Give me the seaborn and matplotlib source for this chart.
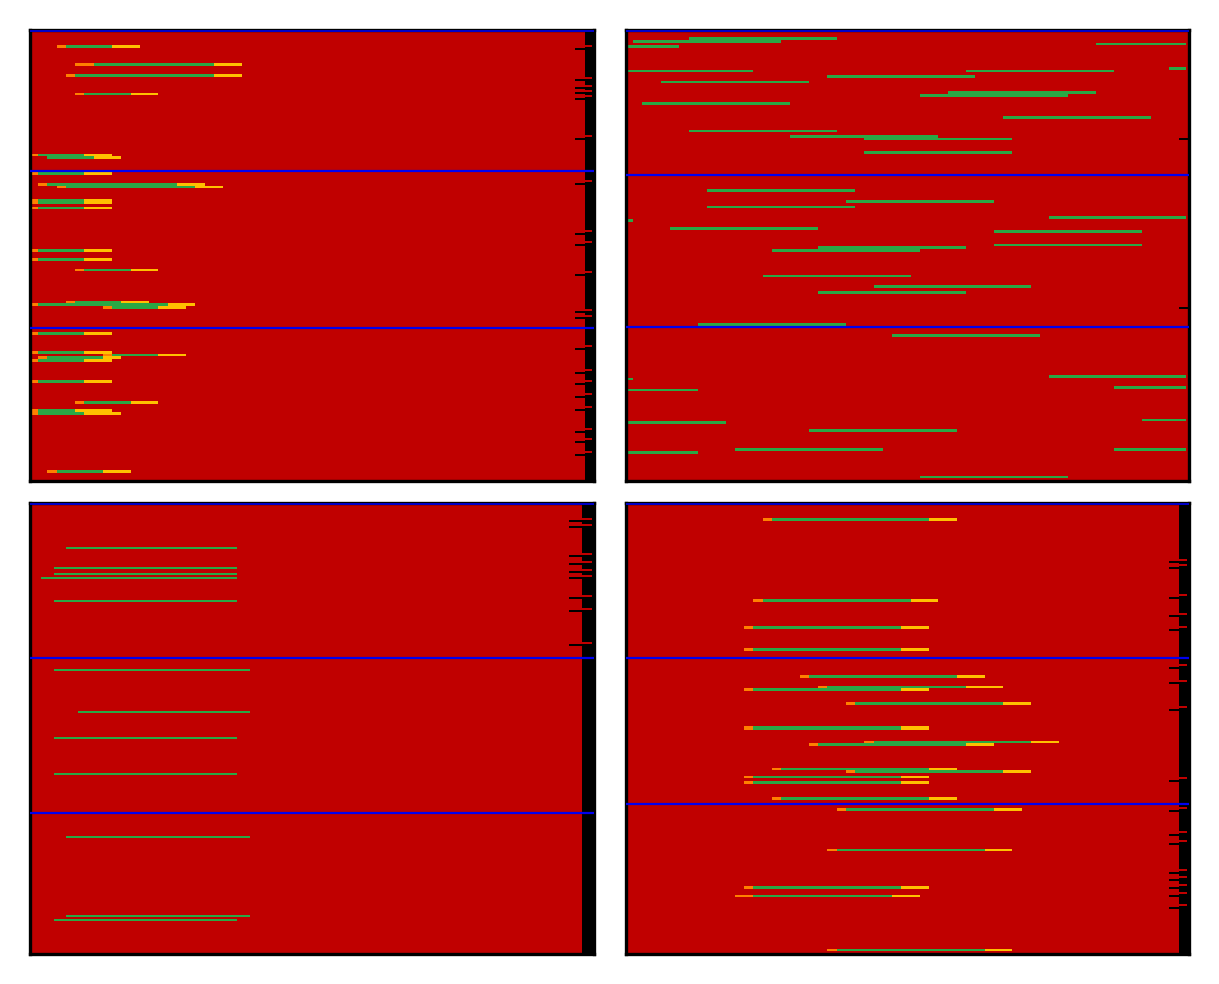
import matplotlib
matplotlib.use("Agg")
import matplotlib.pyplot as plt
import pandas as pd
import seaborn as sns

sns.set_style("white")

RED = "#c00000"
GREEN = "#2aa845"
ORANGE = "#ff8000"
YELLOW = "#ffc000"
BLUE = "#0000f0"

# panel 1: row, tx start, cds start, cds end, tx end, track height
p1_tx = [
    (16.5, 27, 36, 82, 110, 3), (34.5, 45, 64, 184, 212, 3), (45.5, 36, 45, 184, 212, 3),
    (64, 45, 54, 101, 128, 2), (125, 1, 8, 54, 82, 2), (127.5, 17, 17, 64, 91, 3),
    (143.5, 1, 8, 54, 82, 3), (154.5, 8, 17, 147, 175, 3), (157, 27, 36, 165, 193, 2),
    (171.5, 1, 8, 54, 82, 5), (178, 1, 8, 54, 82, 2), (220.5, 1, 8, 54, 82, 3),
    (228.5, 1, 8, 54, 82, 3), (239, 45, 54, 101, 128, 2), (271, 36, 45, 91, 119, 2),
    (273.5, 1, 8, 138, 165, 3), (276.5, 73, 82, 128, 156, 3), (302.5, 1, 8, 54, 82, 3),
    (321.5, 1, 8, 54, 82, 3), (324, 73, 82, 128, 156, 2), (326.5, 8, 17, 73, 91, 3),
    (329.5, 1, 8, 54, 82, 3), (350.5, 1, 8, 54, 82, 3), (371.5, 45, 54, 101, 128, 3),
    (379.5, 1, 8, 45, 82, 3), (382.5, 1, 8, 54, 91, 3), (440.5, 17, 27, 73, 101, 3),
]
p1_splits = [141, 297]
p1_marks = [(16, 19), (48, 50), (56, 58), (61, 63), (66, 69), (106, 109), (151, 154),
            (201, 204), (212, 215), (241, 244), (279, 281), (285, 287), (315, 318),
            (339, 342), (350, 353), (363, 366), (376, 379), (398, 401), (408, 411), (421, 424)]

# panel 2: row, start, end, track height (coding only)
p2_tx = [
    (8.5, 63, 211, 3), (11.5, 7, 155, 3), (14, 470, 560, 2), (16.5, 0, 53, 3),
    (38.5, 543, 560, 3), (41, 0, 127, 2), (41, 340, 488, 2), (46.5, 201, 349, 3),
    (52, 35, 183, 2), (62.5, 322, 470, 3), (65.5, 294, 442, 3), (73.5, 16, 164, 3),
    (87.5, 377, 525, 3), (101, 63, 211, 2), (106.5, 164, 312, 3), (109, 238, 386, 2),
    (122.5, 238, 386, 3), (160.5, 81, 229, 3), (171.5, 220, 368, 3), (177, 81, 229, 2),
    (187.5, 423, 560, 3), (190.5, 0, 7, 3), (198.5, 44, 192, 3), (201.5, 368, 516, 3),
    (215, 368, 516, 2), (217.5, 192, 340, 3), (220.5, 146, 294, 3), (245, 137, 285, 2),
    (255.5, 248, 405, 3), (261.5, 192, 340, 3), (293.5, 72, 220, 3), (304.5, 266, 414, 3),
    (345.5, 423, 560, 3), (348, 0, 7, 2), (356.5, 488, 560, 3), (359, 0, 72, 2),
    (389, 516, 560, 2), (391.5, 0, 100, 3), (399.5, 183, 331, 3), (418.5, 109, 257, 3),
    (418.5, 488, 560, 3), (421.5, 0, 72, 3), (446, 294, 442, 2),
]
p2_splits = [144.5, 296]
p2_marks = [109, 277.5]

# panel 3: row, start, end, track height (coding only)
p3_tx = [
    (45, 36, 207, 2), (65, 24, 207, 2), (71, 24, 207, 2), (75, 11, 207, 2),
    (98, 24, 207, 2), (167, 24, 220, 2), (209, 48, 220, 2), (234, 24, 207, 2),
    (270, 24, 207, 2), (333, 36, 220, 2), (412, 36, 220, 2), (416, 24, 207, 2),
]
p3_splits = [154.5, 309]
p3_marks = [(16, 18), (22, 24), (51, 53), (59, 61), (67, 69), (73, 75), (93, 95),
            (106, 108), (140, 142)]

# panel 4: row, tx start, cds start, cds end, tx end, track height
p4_tx = [
    (16.5, 137, 146, 303, 331, 3), (97.5, 127, 137, 285, 312, 3), (124.5, 118, 127, 275, 303, 3),
    (146.5, 118, 127, 275, 303, 3), (173.5, 174, 183, 331, 359, 3), (184, 192, 201, 340, 377, 2),
    (186.5, 118, 127, 275, 303, 3), (200.5, 220, 229, 377, 405, 3), (224.5, 118, 127, 275, 303, 3),
    (238, 238, 248, 405, 433, 2), (240.5, 183, 192, 340, 368, 3), (265, 146, 155, 303, 331, 2),
    (267.5, 220, 229, 377, 405, 3), (273, 118, 127, 275, 303, 2), (278.5, 118, 127, 275, 303, 3),
    (294.5, 146, 155, 303, 331, 3), (305.5, 211, 220, 368, 396, 3), (346, 201, 211, 359, 386, 2),
    (383.5, 118, 127, 275, 303, 3), (392, 109, 127, 266, 294, 2), (446, 201, 211, 359, 386, 2),
]
p4_splits = [154.5, 300]
p4_marks = [(57, 59), (62, 65), (92, 95), (111, 113), (124, 127), (162, 165), (178, 180),
            (204, 207), (274, 277), (304, 307), (328, 331), (337, 340), (366, 369),
            (373, 376), (381, 384), (389, 392), (401, 404)]

W, H = 1219, 984
fig = plt.figure(figsize=(W / 100, H / 100), dpi=100)
boxes = [(30, 30, 564, 451), (626, 30, 563, 451), (30, 503, 564, 451), (626, 503, 563, 451)]


def make_ax(box):
    x, y, w, h = box
    ax = fig.add_axes([x / W, 1 - (y + h) / H, w / W, h / H])
    ax.set_facecolor(RED)
    ax.set_xlim(0, 563)
    ax.set_ylim(450, 0)
    ax.set_xticks([])
    ax.set_yticks([])
    for s in ax.spines.values():
        s.set_color("black")
        s.set_linewidth(2.4)
    return ax


def draw_utr(ax, rows):
    df = pd.DataFrame(rows, columns=["row", "start", "cds_start", "cds_end", "end", "h"])
    for _, r in df.iterrows():
        ax.barh(r.row, r.cds_start - r.start, left=r.start, height=r.h, color=ORANGE, lw=0)
        ax.barh(r.row, r.cds_end - r.cds_start, left=r.cds_start, height=r.h, color=GREEN, lw=0)
        ax.barh(r.row, r.end - r.cds_end, left=r.cds_end, height=r.h, color=YELLOW, lw=0)


def draw_cds(ax, rows):
    df = pd.DataFrame(rows, columns=["row", "start", "end", "h"])
    ax.barh(df.row, df.end - df.start, left=df.start, height=df.h, color=GREEN, lw=0)


def draw_strip(ax, marks, x0, x1):
    ax.axvspan(x0, 563, color="black", lw=0, zorder=3)
    for red_row, black_row in marks:
        ax.barh(red_row, 561 - x0, left=x0, height=2, color=RED, lw=0, zorder=4)
        ax.barh(black_row, x0 - x1, left=x1, height=2, color="black", lw=0, zorder=4)


def draw_splits(ax, rows):
    ax.axhline(1, color=BLUE, lw=1.2, zorder=5)
    for r in rows:
        ax.axhline(r, color=BLUE, lw=1.6, zorder=5)


ax1 = make_ax(boxes[0])
draw_utr(ax1, p1_tx)
draw_strip(ax1, p1_marks, 554, 544)
draw_splits(ax1, p1_splits)

ax2 = make_ax(boxes[1])
draw_cds(ax2, p2_tx)
for r in p2_marks:
    ax2.barh(r, 10, left=553, height=2, color="black", lw=0)
draw_splits(ax2, p2_splits)

ax3 = make_ax(boxes[2])
draw_cds(ax3, p3_tx)
draw_strip(ax3, p3_marks, 551, 538)
draw_splits(ax3, p3_splits)

ax4 = make_ax(boxes[3])
draw_utr(ax4, p4_tx)
draw_strip(ax4, p4_marks, 553, 543)
draw_splits(ax4, p4_splits)

fig.savefig("out.png", dpi=100, facecolor="white")
